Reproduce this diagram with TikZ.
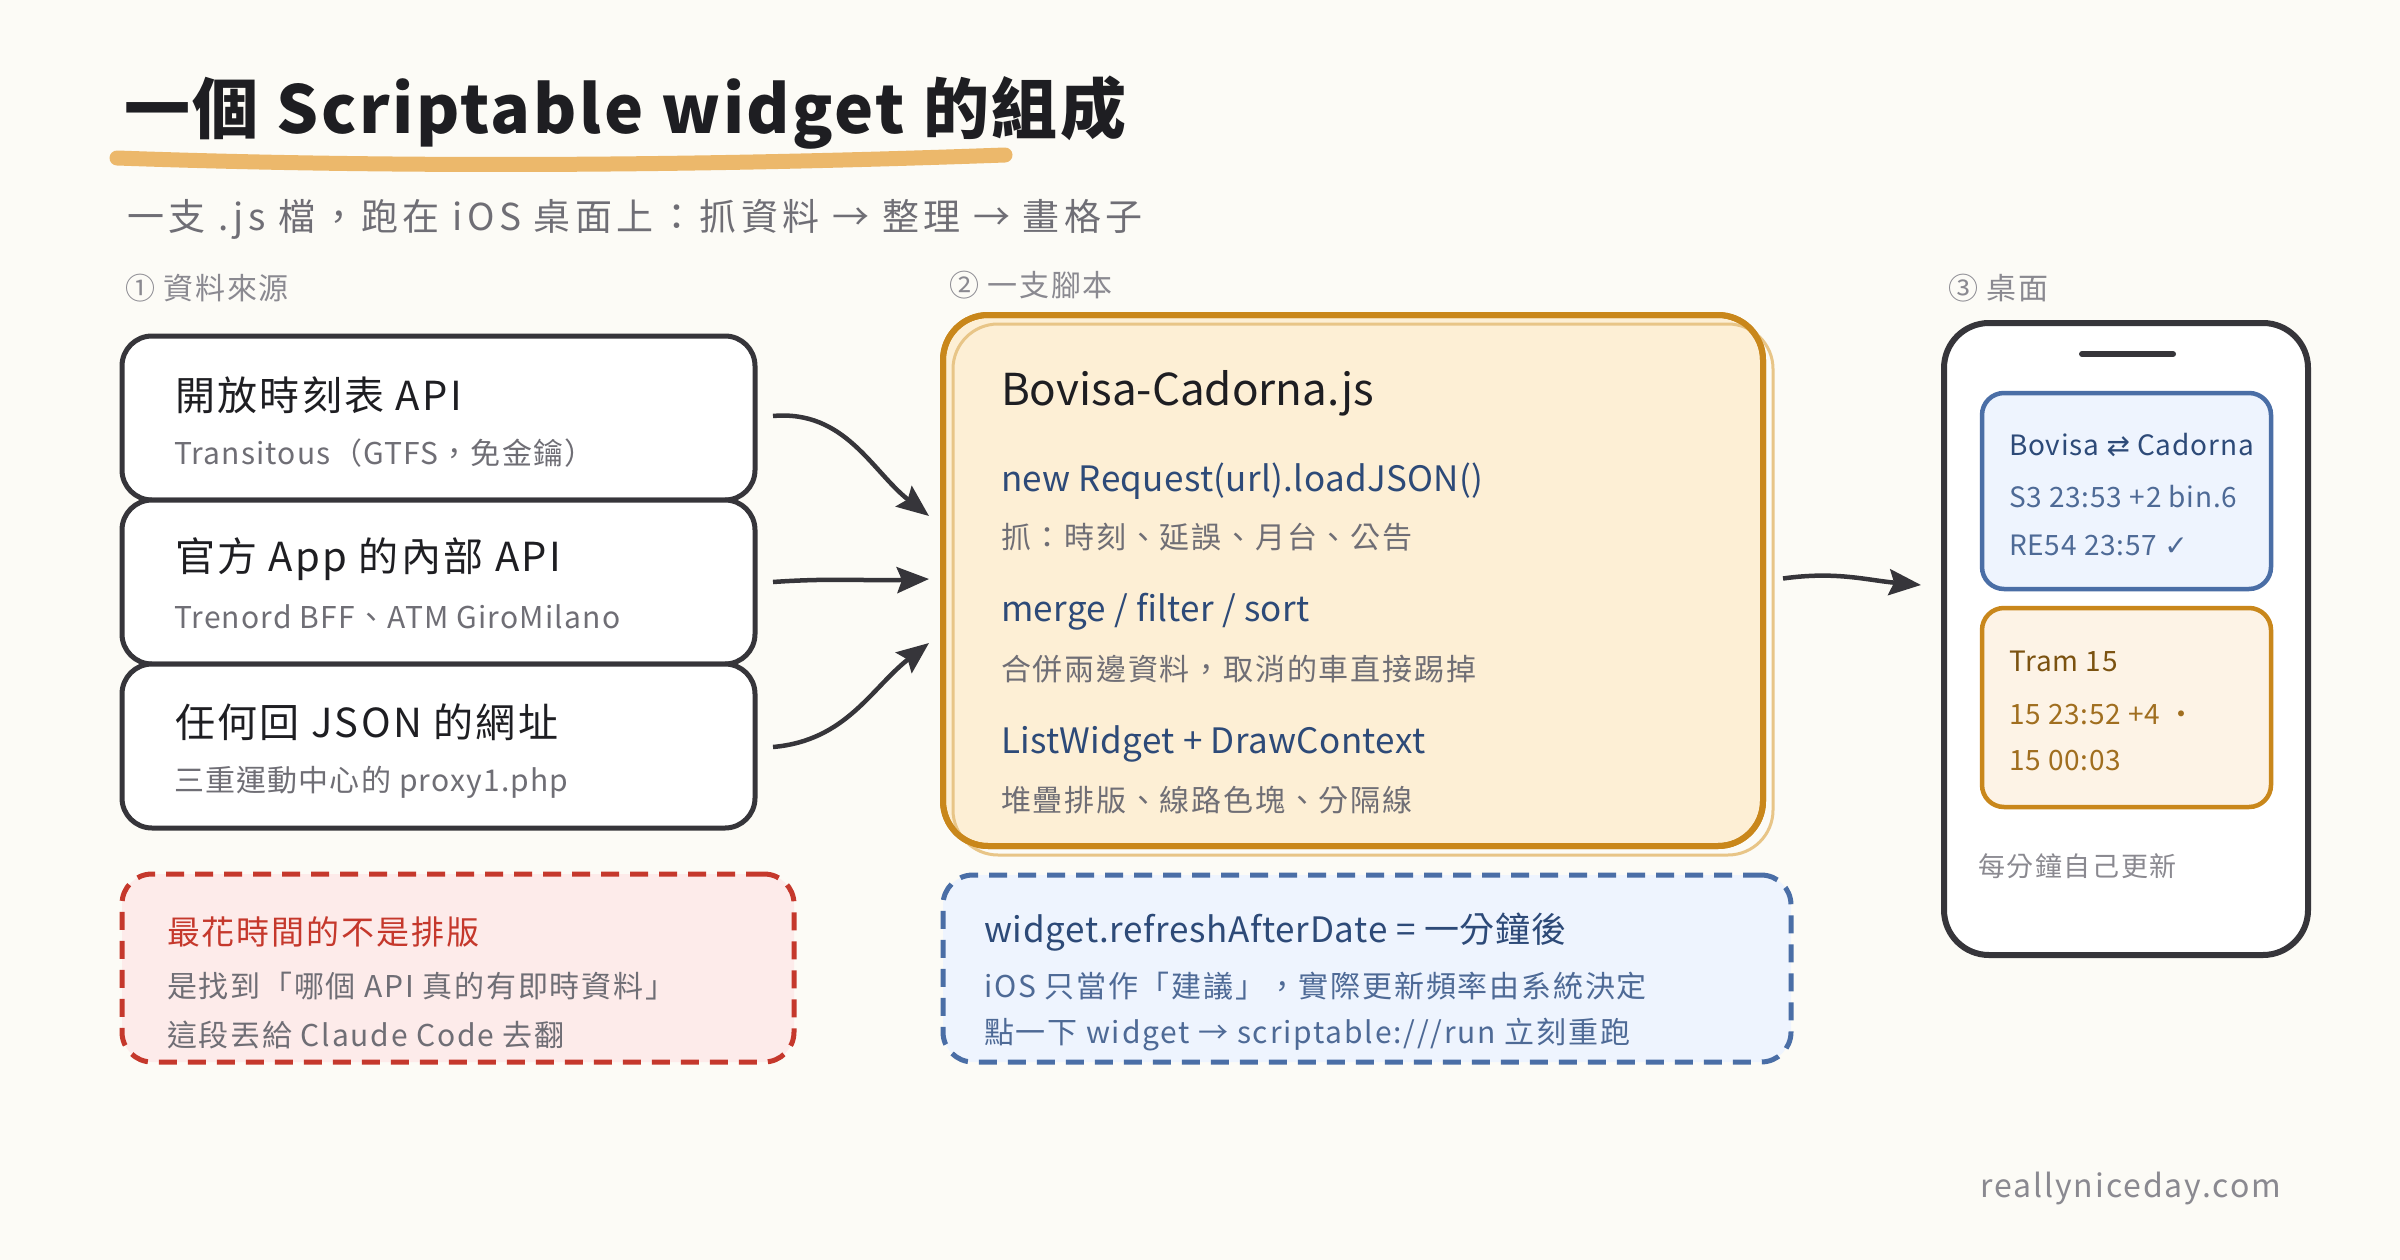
\documentclass[tikz,border=0pt]{standalone}
\usepackage{fontspec}
\setmainfont{Noto Sans CJK TC}[LetterSpace=6]
\newfontfamily\symfont{DejaVu Sans}
\usetikzlibrary{arrows.meta,calc}
\definecolor{bg}{HTML}{FCFBF6}
\definecolor{ink}{HTML}{1E1E22}
\definecolor{dark}{HTML}{36353A}
\definecolor{gray1}{HTML}{6F6E75}
\definecolor{gray2}{HTML}{8A8990}
\definecolor{ul}{HTML}{ECB86B}
\definecolor{orS}{HTML}{C9871B}
\definecolor{orL}{HTML}{E8C587}
\definecolor{orF}{HTML}{FDEFD5}
\definecolor{orF2}{HTML}{FDF3E6}
\definecolor{orT}{HTML}{7B5210}
\definecolor{orT2}{HTML}{A06E1F}
\definecolor{blS}{HTML}{4A6EA6}
\definecolor{blF}{HTML}{EEF4FE}
\definecolor{blT}{HTML}{2D4A78}
\definecolor{blT2}{HTML}{4E6A96}
\definecolor{rdS}{HTML}{C5382C}
\definecolor{rdF}{HTML}{FDEBEA}
\newcommand{\fs}[1]{\fontsize{#1}{#1}\selectfont}
\begin{document}
\begin{tikzpicture}[x=1pt,y=-1pt,
  every node/.style={inner sep=0pt,outer sep=0pt},
  txt/.style={anchor=west,inner sep=0pt},
  srcbox/.style={draw=dark,line width=5pt,fill=white,rounded corners=30pt,minimum width=633pt,minimum height=164pt},
  boxtitle/.style={txt,text=ink,font=\fs{40}},
  boxsub/.style={txt,text=gray1,font={\fs{30}\addfontfeatures{LetterSpace=4}}},
  codeline/.style={txt,text=blT,font={\fs{35}\addfontfeatures{LetterSpace=1}}},
  noteline/.style={txt,text=gray1,font=\fs{30}},
  flow/.style={draw=dark,line width=4.5pt,-{Stealth[length=32pt,width=26pt,inset=5pt]}},
  card/.style={line width=4.5pt,rounded corners=22pt,minimum width=289pt},
  cardtxt/.style={txt,font={\fs{28}\addfontfeatures{LetterSpace=3}}},
  dashbox/.style={line width=5pt,dash pattern=on 18pt off 11pt,rounded corners=30pt},
]
\useasboundingbox[fill=bg] (0,0) rectangle (2400,1260);

% title
\draw[ul,line width=15pt,line cap=round] (117,158) .. controls (400,168) and (700,166) .. (1005,155);
\node[txt,text=ink,font={\fs{66}\bfseries\addfontfeatures{LetterSpace=4}}] (title) at (124,113) {一個 Scriptable widget 的組成};
\node[txt,text=gray1,font={\fs{37}\addfontfeatures{LetterSpace=12}}] (subtitle) at (127,219) {一支 .js 檔，跑在 iOS 桌面上：抓資料 → 整理 → 畫格子};

% section labels
\node[txt,text=gray2,font=\fs{30}] (sec1) at (125,288) {① 資料來源};
\node[txt,text=gray2,font=\fs{30}] (sec2) at (949,285) {② 一支腳本};
\node[txt,text=gray2,font=\fs{30}] (sec3) at (1948,288) {③ 桌面};

% source boxes
\node[srcbox] (b1) at (438.5,418) {};
\node[srcbox] (b2) at (438.5,582) {};
\node[srcbox] (b3) at (438.5,746) {};
\node[boxtitle] (b1t) at (175,395) {開放時刻表 API};
\node[boxsub] (b1s) at (174,453) {Transitous（GTFS，免金鑰）};
\node[boxtitle] (b2t) at (175,559) {官方 App 的內部 API};
\node[boxsub] (b2s) at (174,617) {Trenord BFF、ATM GiroMilano};
\node[boxtitle] (b3t) at (175,722) {任何回 JSON 的網址};
\node[boxsub] (b3s) at (174,782) {三重運動中心的 proxy1.php};

% main script box
\node[draw=orS,line width=6pt,fill=orF,rounded corners=45pt,minimum width=820pt,minimum height=531pt] (main) at (1353,580.5) {};
\draw[orL,line width=3pt,rounded corners=45pt] ($(main.north west)+(10,9)$) rectangle ($(main.south east)+(10,9)$);
\draw[orS,line width=6pt,rounded corners=45pt] (main.north west) rectangle (main.south east);
\node[txt,text=ink,font={\fs{44}\addfontfeatures{LetterSpace=0}}] (fname) at (1001,393) {Bovisa-Cadorna.js};
\node[codeline] (c1) at (1001,481) {new Request(url).loadJSON()};
\node[noteline] (n1) at (1001,537) {抓：時刻、延誤、月台、公告};
\node[codeline] (c2) at (1001,612) {merge / filter / sort};
\node[noteline] (n2) at (1001,669) {合併兩邊資料，取消的車直接踢掉};
\node[codeline] (c3) at (1001,744) {ListWidget + DrawContext};
\node[noteline] (n3) at (1001,800) {堆疊排版、線路色塊、分隔線};

% arrows into main
\draw[flow] ($(b1.east)+(18,-2)$) to[out=5,in=142] ($(main.west)+(-14,-64.5)$);
\draw[flow] ($(b2.east)+(18,0)$) to[out=4,in=182] ($(main.west)+(-14,-1.5)$);
\draw[flow] ($(b3.east)+(18,1)$) to[out=5,in=218] ($(main.west)+(-14,62.5)$);

% phone
\node[draw=dark,line width=6pt,fill=white,rounded corners=45pt,minimum width=364pt,minimum height=632pt] (phone) at (2126,639) {};
\draw[dark,line width=6pt,line cap=round] ($(phone.north)+(-44,31)$) -- ($(phone.north)+(47,31)$);
\draw[flow] ($(main.east)+(20,-2)$) to[out=8,in=175] ($(phone.west)+(-23,-54)$);

\node[card,draw=blS,fill=blF,minimum height=196pt] (cardA) at (2126.5,491) {};
\node[cardtxt,text=blT] (ca1) at (2009,445) {Bovisa {\symfont ⇄} Cadorna};
\node[cardtxt,text=blT2] (ca2) at (2009,497) {S3 23:53 +2 bin.6};
\node[cardtxt,text=blT2] (ca3) at (2009,545) {RE54 23:57 {\symfont ✓}};

\node[card,draw=orS,fill=orF2,minimum height=199pt] (cardB) at (2126.5,707.5) {};
\node[cardtxt,text=orT] (cb1) at (2009,661) {Tram 15};
\node[cardtxt,text=orT2] (cb2) at (2009,715) {15 23:52 +4 •};
\node[cardtxt,text=orT2] (cb3) at (2009,761) {15 00:03};

\node[txt,text=gray2,font=\fs{27}] (upd) at (1978,866) {每分鐘自己更新};

% red note
\node[dashbox,draw=rdS,fill=rdF,minimum width=672pt,minimum height=188pt] (red) at (458,968) {};
\node[txt,text=rdS,font=\fs{33}] (r1) at (167,932) {最花時間的不是排版};
\node[noteline] (r2) at (167,986) {是找到「哪個 API 真的有即時資料」};
\node[noteline] (r3) at (167,1035) {這段丟給 Claude Code 去翻};

% blue note
\node[dashbox,draw=blS,fill=blF,minimum width=848pt,minimum height=187pt] (blue) at (1367,968.5) {};
\node[txt,text=blT,font={\fs{35}\addfontfeatures{LetterSpace=2}}] (u1) at (984,932) {widget.refreshAfterDate = 一分鐘後};
\node[txt,text=blT2,font=\fs{30}] (u2) at (984,986) {iOS 只當作「建議」，實際更新頻率由系統決定};
\node[txt,text=blT2,font=\fs{30}] (u3) at (984,1035) {點一下 widget → scriptable:///run 立刻重跑};

% footer
\node[anchor=east,text=gray2,font=\fs{32}] (foot) at (2281,1188) {reallyniceday.com};
\end{tikzpicture}
\end{document}
